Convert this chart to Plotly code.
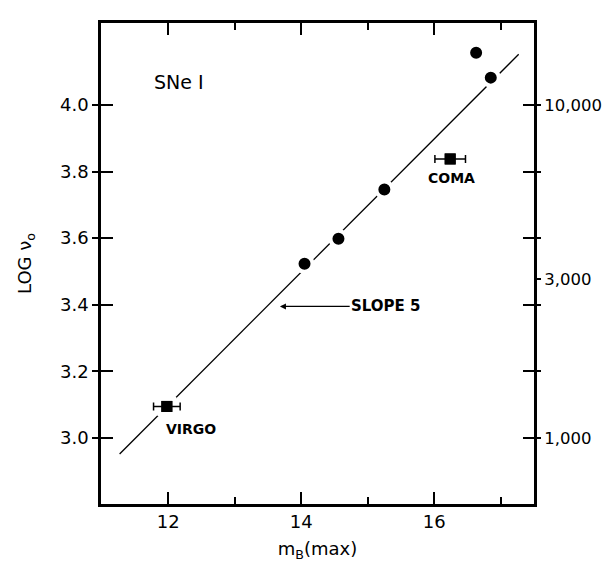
import plotly.graph_objects as go
import math

# SNe I data: apparent magnitude at max vs log velocity
sn_m = [14.05, 14.56, 15.25, 16.63, 16.85]
sn_logv = [3.523, 3.598, 3.746, 4.157, 4.082]

cluster_names = ["VIRGO", "COMA"]
cluster_m = [11.98, 16.24]
cluster_logv = [3.095, 3.838]
cluster_merr = [0.2, 0.23]

line_m = [11.27, 17.27]
line_logv = [2.952, 4.152]

x_major = [12, 14, 16]
x_minor = [13, 15, 17]
y_ticks = [3.0, 3.2, 3.4, 3.6, 3.8, 4.0]
right_vals = [1000, 3000, 10000]
right_text = ["1,000", "3,000", "10,000"]

xr = [10.99, 17.5]
yr = [2.802, 4.246]
FONT = "DejaVu Sans"

fig = go.Figure()
fig.add_trace(go.Scatter(x=line_m, y=line_logv, mode="lines",
                         line=dict(color="black", width=1.3), showlegend=False))
fig.add_trace(go.Scatter(x=sn_m, y=sn_logv, mode="markers",
                         marker=dict(symbol="circle", size=16, color="black",
                                     line=dict(color="white", width=4)),
                         showlegend=False))
# white halo for cluster squares
fig.add_trace(go.Scatter(x=cluster_m, y=cluster_logv, mode="markers",
                         marker=dict(symbol="square", size=15, color="black",
                                     line=dict(color="white", width=4)),
                         showlegend=False))
fig.add_trace(go.Scatter(x=cluster_m, y=cluster_logv, mode="markers",
                         marker=dict(symbol="square", size=11, color="black"),
                         error_x=dict(type="data", array=cluster_merr, color="black",
                                      thickness=1.5, width=4),
                         showlegend=False))

# right axis ticks (log of velocity)
r_tickvals = [math.log10(v) if v in right_vals else v for v in
              [1000, 3.2, 3.4, 3000, 3.6, 3.8, 10000]]
r_ticktext = [right_text[right_vals.index(v)] if v in right_vals else "" for v in
              [1000, 3.2, 3.4, 3000, 3.6, 3.8, 10000]]

fig.update_layout(
    width=611, height=562,
    margin=dict(l=93, r=85, t=13, b=66),
    paper_bgcolor="white", plot_bgcolor="white",
    font=dict(family=FONT, color="black", size=18),
    xaxis=dict(range=xr, tickvals=x_major, ticktext=[str(v) for v in x_major],
               ticks="inside", ticklen=12, tickwidth=1.5, tickcolor="black",
               minor=dict(tickvals=x_minor, ticks="inside", ticklen=7, tickwidth=1.5,
                          tickcolor="black"),
               showline=True, linecolor="black", linewidth=2.5, mirror="ticks",
               showgrid=False, zeroline=False, tickfont=dict(size=18),
               title=dict(text="m<sub>B</sub>(max)", font=dict(size=18), standoff=12)),
    yaxis=dict(range=yr, tickvals=y_ticks, tickformat=".1f",
               ticks="outside", ticklen=6, tickwidth=1.5, tickcolor="black",
               showline=True, linecolor="black", linewidth=2.5, mirror=True,
               showgrid=False, zeroline=False, tickfont=dict(size=18),
               title=dict(text="LOG ν<sub>o</sub>", font=dict(size=18), standoff=24)),
    yaxis2=dict(range=yr, overlaying="y", side="right", tickvals=r_tickvals,
                ticktext=r_ticktext, ticks="outside", ticklen=6, tickwidth=1.5,
                tickcolor="black", showline=False, showgrid=False, zeroline=False,
                tickfont=dict(size=16.5)),
    yaxis3=dict(range=yr, overlaying="y", side="left", tickvals=y_ticks,
                showticklabels=False, ticks="inside", ticklen=12, tickwidth=1.5,
                tickcolor="black", showline=False, showgrid=False, zeroline=False),
    yaxis4=dict(range=yr, overlaying="y", side="right", tickvals=y_ticks,
                showticklabels=False, ticks="inside", ticklen=11, tickwidth=1.5,
                tickcolor="black", showline=False, showgrid=False, zeroline=False),
)

# dummy traces to activate overlay axes
for ax in ["y2", "y3", "y4"]:
    fig.add_trace(go.Scatter(x=[None], y=[None], yaxis=ax, showlegend=False,
                             hoverinfo="skip"))

fig.add_annotation(x=11.75, y=4.07, text="SNe I", showarrow=False,
                   xanchor="left", yanchor="middle", font=dict(size=19))
fig.add_annotation(x=12.35, y=3.027, text="<b>VIRGO</b>", showarrow=False,
                   xanchor="center", yanchor="middle", font=dict(size=14))
fig.add_annotation(x=16.26, y=3.781, text="<b>COMA</b>", showarrow=False,
                   xanchor="center", yanchor="middle", font=dict(size=14))
fig.add_annotation(x=13.68, y=3.395, ax=15.27, ay=3.395, axref="x", ayref="y",
                   text="<b>SLOPE 5</b>", showarrow=True, arrowhead=2,
                   arrowsize=1, arrowwidth=1.2, arrowcolor="black",
                   font=dict(size=15))

fig.write_html("out.html")
